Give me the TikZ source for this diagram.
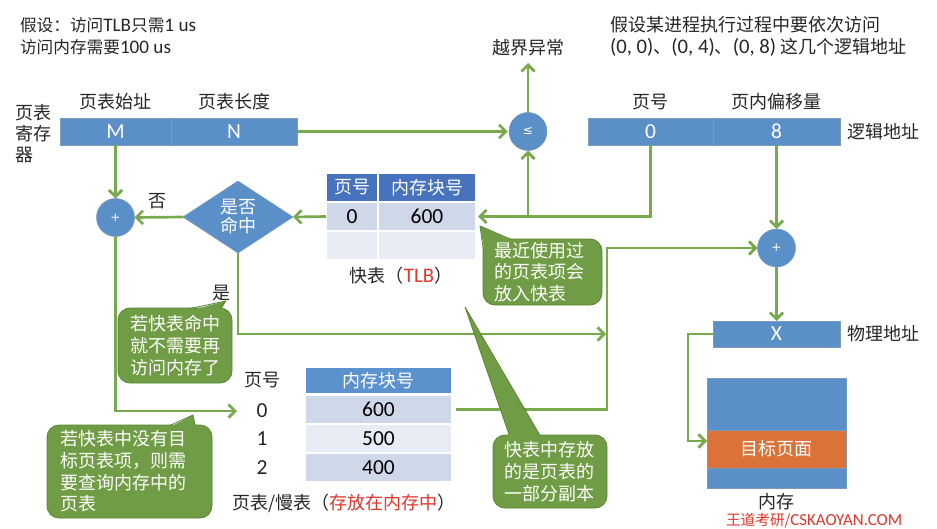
\documentclass[tikz,border=0pt]{standalone}
\usepackage{fontspec}
\setmainfont{Noto Sans CJK SC}
\newfontfamily\lat{Carlito}[Scale=1.15]
\newfontfamily\symf{DejaVu Sans}
\usetikzlibrary{arrows.meta,shapes.geometric}
\definecolor{barblue}{HTML}{5A8FC8}
\definecolor{bardark}{HTML}{41719C}
\definecolor{tlbhead}{HTML}{4672BE}
\definecolor{pthead}{HTML}{5B92CE}
\definecolor{rowa}{HTML}{CFD8E8}
\definecolor{rowb}{HTML}{E8EDF5}
\definecolor{lgreen}{HTML}{77AA4C}
\definecolor{cgreen}{HTML}{6F9C44}
\definecolor{cgreend}{HTML}{5A8535}
\definecolor{orng}{HTML}{DB7338}
\definecolor{redt}{HTML}{E0362C}
\begin{document}
\begin{tikzpicture}[x=0.75pt,y=-0.75pt,
  every node/.style={inner sep=0pt,outer sep=0pt},
  txt/.style={font=\fontsize{13.5}{17}\selectfont, text=black!85},
  bar/.style={fill=barblue, draw=bardark!70, line width=0.4pt, text=white, minimum height=27*0.75pt, font=\lat\fontsize{14}{16}\selectfont},
  circ/.style={circle, fill=barblue, draw=bardark!70, line width=0.4pt, minimum size=38*0.75pt, text=white, font=\symf\fontsize{9}{10}\selectfont},
  cell/.style={draw=white, line width=1pt, text=black, font=\lat\fontsize{14}{16}\selectfont},
  hcell/.style={cell, text=white, font=\fontsize{13.5}{16}\selectfont},
  numl/.style={font=\lat\fontsize{14}{16}\selectfont, text=black!85, minimum width=50*0.75pt},
  ln/.style={draw=lgreen, line width=2pt},
  arr/.style={ln, -{Straight Barb[length=5pt,width=10pt]}},
  callbox/.style={fill=cgreen, draw=cgreend, line width=0.6pt, rounded corners=9pt},
  calltext/.style={text=white, align=left, font=\fontsize{13.5}{16.3}\selectfont},
  wedge/.style={fill=cgreen},
  wedgeedge/.style={draw=cgreend, line width=0.6pt, line join=round}
]
\fill[white] (0,0) rectangle (937,528);
\path[use as bounding box] (0,0) rectangle (937,528);

% top notes
\node[txt, font=\fontsize{12.5}{16.5}\selectfont, anchor=west, align=left] (note1) at (20,36) {假设：访问{\lat TLB}只需{\lat 1 us}\\访问内存需要{\lat 100 us}};
\node[txt, anchor=west, align=left] (note2) at (610,36.5) {假设某进程执行过程中要依次访问\\{\lat (0, 0)}、{\lat (0, 4)}、{\lat (0, 8)} 这几个逻辑地址};

% page table register
\node[txt, anchor=west, align=left, font=\fontsize{13.5}{15.8}\selectfont] (ptr) at (15,134) {页表\\寄存\\器};
\node[txt] (lbM) at (115.5,102) {页表始址};
\node[txt] (lbN) at (234,102) {页表长度};
\node[bar, minimum width=111*0.75pt] (M) at (115.5,131.5) {M};
\node[bar, minimum width=126*0.75pt] (N) at (234,131.5) {N};

% bound check
\node[circ] (le) at (528,131.5) {≤};
\node[txt] (oob) at (528,48) {越界异常};

% logical address
\node[txt] (lbp) at (650.5,102) {页号};
\node[txt] (lbo) at (776.5,102) {页内偏移量};
\node[bar, minimum width=125*0.75pt] (lp) at (650.5,131.5) {0};
\node[bar, minimum width=127*0.75pt] (lo) at (776.5,131.5) {8};
\node[txt, anchor=west] (la) at (847,131.5) {逻辑地址};

% physical address
\node[circ] (pr) at (776.5,248) {+};
\node[bar, minimum width=127*0.75pt, minimum height=26*0.75pt] (X) at (776.5,334) {X};
\node[txt, anchor=west] (pa) at (847,334) {物理地址};

% memory
\node[fill=barblue, draw=bardark!70, line width=0.4pt, minimum width=139*0.75pt, minimum height=110*0.75pt] (mem) at (776.5,433) {};
\node[fill=orng, draw=bardark!70, line width=0.4pt, minimum width=139*0.75pt, minimum height=38*0.75pt, text=white, font=\fontsize{13.5}{16}\selectfont] (tgt) at (776.5,449) {目标页面};
\node[txt] (meml) at (776.5,502) {内存};

% left adder & decision
\node[circ] (pl) at (115.5,217.5) {+};
\node[diamond, fill=barblue, draw=bardark!70, line width=0.4pt, minimum width=110*0.75pt, minimum height=72*0.75pt, text=white, align=center, font=\fontsize{13.5}{14.2}\selectfont] (dia) at (238,217) {是否\\命中};
\node[txt] (no) at (157,201) {否};
\node[txt] (yes) at (221,293) {是};

% TLB
\node[hcell, fill=tlbhead, minimum width=52*0.75pt, minimum height=29*0.75pt] (th1) at (352,187.5) {页号};
\node[hcell, fill=tlbhead, minimum width=98*0.75pt, minimum height=29*0.75pt] (th2) at (427,187.5) {内存块号};
\node[cell, fill=rowa, minimum width=52*0.75pt, minimum height=29*0.75pt] (t1a) at (352,216.5) {0};
\node[cell, fill=rowa, minimum width=98*0.75pt, minimum height=29*0.75pt] (t1b) at (427,216.5) {600};
\node[cell, fill=rowb, minimum width=52*0.75pt, minimum height=29*0.75pt] (t2a) at (352,245.5) {};
\node[cell, fill=rowb, minimum width=98*0.75pt, minimum height=29*0.75pt] (t2b) at (427,245.5) {};
\node[txt] (tlbl) at (401,276) {快表（\textcolor{redt}{\lat TLB}）};

% page table
\node[txt] (pth) at (262,380) {页号};
\node[numl] (pt0l) at (262,411) {0};
\node[numl] (pt1l) at (262,439) {1};
\node[numl] (pt2l) at (262,468) {2};
\node[hcell, fill=pthead, minimum width=147*0.75pt, minimum height=27*0.75pt] (pth2) at (378.5,380.5) {内存块号};
\node[cell, fill=rowa, minimum width=147*0.75pt, minimum height=29*0.75pt] (r0) at (378.5,409.5) {600};
\node[cell, fill=rowb, minimum width=147*0.75pt, minimum height=29*0.75pt] (r1) at (378.5,438.5) {500};
\node[cell, fill=rowa, minimum width=147*0.75pt, minimum height=29*0.75pt] (r2) at (378.5,467.5) {400};
\node[txt, anchor=west] (ptl) at (232,503) {页表/慢表（\textcolor{redt}{存放在内存中}）};

% watermark
\node[anchor=south west, text=redt, font=\fontsize{11}{13}\selectfont] (wm) at (726,528) {王道考研/{\lat CSKAOYAN.COM}};

% connectors
\coordinate (jn) at (606,334);
\coordinate (jv) at (607,248);
\coordinate (xm) at (688,334);
\draw[arr, shorten >=1pt] (N.east) -- (le.west);
\draw[arr, shorten >=5pt] (le.north) -- (oob.south);
\draw[arr, shorten >=1.5pt] (lp.south) |- (t1b.east);
\draw[arr] (le.south |- t1b.east) -- (le.south);
\draw[arr] (t1a.west) -- (dia.east);
\draw[arr] (dia.west) -- (pl.east);
\draw[arr] (M.south) -- (pl.north);
\draw[arr] (pl.south) |- (pt0l.west);
\draw[arr] (dia.south) |- (jn);
\draw[arr, shorten <=3pt] (r0.east) -| (jv) -- (pr.west);
\draw[arr] (lo.south) -- (pr.north);
\draw[arr] (pr.south) -- (X.north);
\draw[arr] (X.west) -- (xm) |- ([yshift=6pt]tgt.west);

% callouts: box, wedge, then text on top
\node[callbox, minimum width=119*0.75pt, minimum height=66*0.75pt] (c1) at (542.5,272) {};
\fill[wedge] (480,226) -- (485,254) -- (514,241) -- cycle;
\draw[wedgeedge] (483.4,251) -- (480,226) -- (511,239.3);
\node[calltext, text width=97*0.75pt] (c1t) at (c1.center) {最近使用过\\的页表项会\\放入快表};

\node[callbox, minimum width=114*0.75pt, minimum height=75*0.75pt] (c2) at (175,345.5) {};
\fill[wedge] (226,301) -- (190,310.5) -- (221,310.5) -- cycle;
\draw[wedgeedge] (191,308.3) -- (226,301) -- (219,308.3);
\node[calltext, text width=90*0.75pt] (c2t) at (c2.center) {若快表命中\\就不需要再\\访问内存了};

\node[callbox, minimum width=165*0.75pt, minimum height=93*0.75pt] (c3) at (129.5,471.5) {};
\fill[wedge] (193,415) -- (169,427.5) -- (196,427.5) -- cycle;
\draw[wedgeedge] (170,425.3) -- (193,415) -- (195,425.3);
\node[calltext, text width=139*0.75pt] (c3t) at (c3.center) {若快表中没有目\\标页表项，则需\\要查询内存中的\\页表};

\node[callbox, minimum width=114*0.75pt, minimum height=73*0.75pt] (c4) at (550,471.5) {};
\fill[wedge] (465,307) -- (510,437.5) -- (541,437.5) -- cycle;
\draw[wedgeedge] (509.3,435.3) -- (465,307) -- (540,435.3);
\node[calltext, text width=92*0.75pt] (c4t) at (c4.center) {快表中存放\\的是页表的\\一部分副本};
\end{tikzpicture}
\end{document}
